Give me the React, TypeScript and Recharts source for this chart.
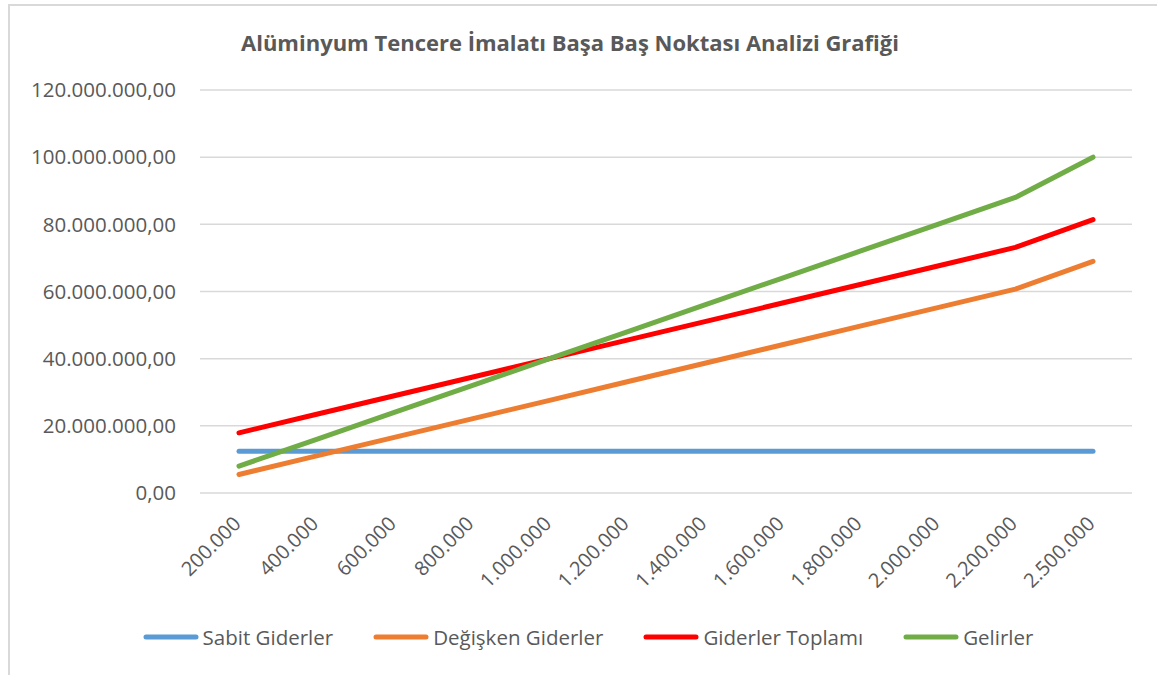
import React from 'react';
import { LineChart, Line, XAxis, YAxis, CartesianGrid, Legend } from 'recharts';

const categories = ['200.000', '400.000', '600.000', '800.000', '1.000.000', '1.200.000', '1.400.000', '1.600.000', '1.800.000', '2.000.000', '2.200.000', '2.500.000'];
const sabitGiderler = [12400000, 12400000, 12400000, 12400000, 12400000, 12400000, 12400000, 12400000, 12400000, 12400000, 12400000, 12400000];
const degiskenGiderler = [5520000, 11040000, 16560000, 22080000, 27600000, 33120000, 38640000, 44160000, 49680000, 55200000, 60720000, 69000000];
const giderlerToplami = [17920000, 23440000, 28960000, 34480000, 40000000, 45520000, 51040000, 56560000, 62080000, 67600000, 73120000, 81400000];
const gelirler = [8000000, 16000000, 24000000, 32000000, 40000000, 48000000, 56000000, 64000000, 72000000, 80000000, 88000000, 100000000];
const yTicks = [0, 20000000, 40000000, 60000000, 80000000, 100000000, 120000000];

const title = 'Alüminyum Tencere İmalatı Başa Baş Noktası Analizi Grafiği';

const seriesDefs = [
  { key: 'sabit', name: 'Sabit Giderler', color: '#5B9BD5', values: sabitGiderler },
  { key: 'degisken', name: 'Değişken Giderler', color: '#ED7D31', values: degiskenGiderler },
  { key: 'toplam', name: 'Giderler Toplamı', color: '#FF0000', values: giderlerToplami },
  { key: 'gelir', name: 'Gelirler', color: '#70AD47', values: gelirler },
];

const data = categories.map((c, i) => {
  const row: any = { cat: c };
  seriesDefs.forEach((s) => { row[s.key] = s.values[i]; });
  return row;
});

const FONT = '"Open Sans", sans-serif';
const TEXT = '#595959';

const fmtY = (v: number) => {
  const s = Math.round(v).toString().replace(/\B(?=(\d{3})+(?!\d))/g, '.');
  return s + ',00';
};

const XTick = (props: any) => {
  const { x, y, payload } = props;
  const ax = x + 3;
  const ay = y + 24;
  return (
    <text x={ax} y={ay} transform={`rotate(-45 ${ax} ${ay})`} textAnchor="end" fill={TEXT} fontSize={20} fontFamily={FONT}>
      {payload.value}
    </text>
  );
};

const LegendContent = () => (
  <div style={{ height: 40, display: 'flex', justifyContent: 'center', alignItems: 'center', fontFamily: FONT, fontSize: 20.5, color: TEXT }}>
    {seriesDefs.map((s, i) => (
      <div key={s.key} style={{ display: 'flex', alignItems: 'center', marginRight: i < seriesDefs.length - 1 ? 40 : 0 }}>
        <svg width={56} height={10} style={{ marginRight: 4 }}>
          <line x1={3} y1={5} x2={53} y2={5} stroke={s.color} strokeWidth={5} strokeLinecap="round" />
        </svg>
        <span>{s.name}</span>
      </div>
    ))}
  </div>
);

export default function App() {
  return (
    <div style={{ position: 'absolute', left: 0, top: 0, width: 1157, height: 675, overflow: 'hidden', background: '#fff' }}>
      <div style={{ position: 'absolute', left: 8, top: 4, width: 1300, height: 800, border: '2px solid #D9D9D9', boxSizing: 'border-box' }} />
      <div style={{ position: 'absolute', left: 0, width: 1140, top: 25, textAlign: 'center', fontFamily: FONT, fontWeight: 700, fontSize: 22, color: TEXT, lineHeight: '34px' }}>
        {title}
      </div>
      <div style={{ position: 'absolute', left: 0, top: 0 }}>
        <LineChart width={1157} height={675} data={data} margin={{ top: 90, right: 25, left: 0, bottom: 18 }}>
          <CartesianGrid vertical={false} stroke="#D9D9D9" strokeWidth={1.5} />
          <XAxis dataKey="cat" axisLine={false} tickLine={false} height={124} interval={0} padding={{ left: 39, right: 39 }} tick={<XTick />} />
          <YAxis domain={[0, 120000000]} ticks={yTicks} tickFormatter={fmtY} width={200} axisLine={false} tickLine={false} tickMargin={18}
            tick={{ fill: TEXT, fontSize: 20.5, fontFamily: FONT }} />
          <Legend verticalAlign="bottom" content={<LegendContent />} wrapperStyle={{ left: 0, width: 1176 }} />
          {seriesDefs.map((s) => (
            <Line key={s.key} type="linear" dataKey={s.key} name={s.name} stroke={s.color} strokeWidth={5} strokeLinecap="round" strokeLinejoin="round" dot={false} activeDot={false} isAnimationActive={false} />
          ))}
        </LineChart>
      </div>
    </div>
  );
}
